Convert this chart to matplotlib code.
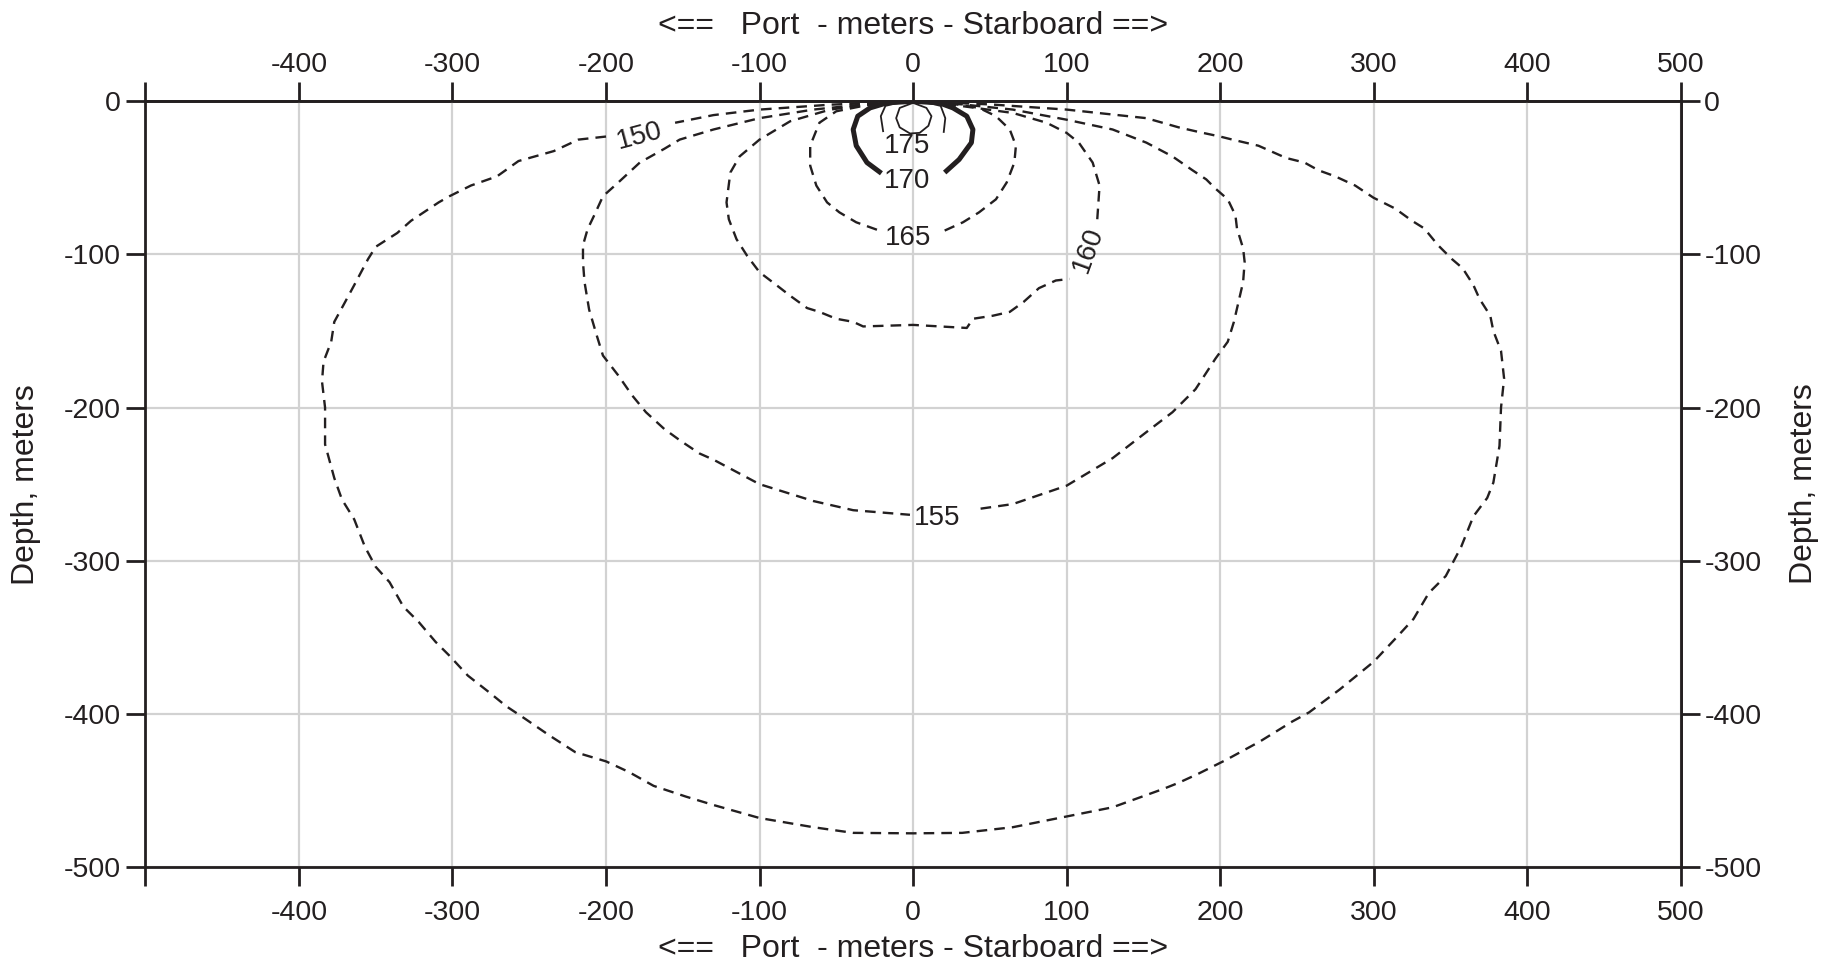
import numpy as np
import matplotlib
matplotlib.use("Agg")
import matplotlib.pyplot as plt

plt.rcParams['font.family'] = ['Liberation Sans', 'DejaVu Sans']
plt.rcParams['axes.unicode_minus'] = False

nan = np.nan

# contour levels (dB), x = across track, y = depth (m)
# nan marks the gap left for the contour label
c150_x = [0, -54, -100, -130, -155, nan, -200, -218, -234, -257, -271, -288, -302, -309, -327, -336,
          -350, -355, -364, -371, -377, -379, -384, -385, -383, -383, -377, -372, -364, -357, -350,
          -341, -332, -322, -311, -302, -290, -276, -265, -253, -237, -220, -200, -185, -169, -148,
          -130, -100, -65, -39, 0, 32, 65, 100, 130, 163, 173, 186, 204, 226, 247, 258, 278, 300,
          315, 326, 336, 347, 357, 365, 374, 378, 382, 383, 385, 383, 378, 376, 369, 365, 358, 351,
          342, 333, 325, 314, 306, 300, 288, 275, 264, 255, 243, 225, 208, 200, 186, 173, 152, 100,
          50, 0]
c150_y = [0, -2.2, -5.4, -9, -14, nan, -23, -25, -32.5, -39, -49, -55, -62, -66, -78, -86,
          -95, -103, -120, -133, -144, -157, -170, -183, -200, -224, -246, -260, -273, -291, -304,
          -314, -330, -340, -353, -362, -375, -386, -395, -403, -414, -425, -431, -438, -447, -454,
          -459.5, -468, -474, -477.7, -478, -477.7, -474, -467, -461, -449, -445, -439, -430, -418,
          -405, -399, -384, -366, -350, -338, -321, -310, -291, -271, -259, -249, -225, -200, -181,
          -163, -150, -140, -129, -120, -109, -103, -94, -83, -78, -70, -66, -63, -55, -49, -45,
          -40, -37, -29, -25, -23, -20, -17, -11, -5.4, -2, 0]

c155_x = [0, -32, -65, -100, -130, -152, -162, -178, -192, -202, -207, -212, -215, -215, -214,
          -211, -206, -202, -192, -183, -174, -162, -151, -139, -130, -100, -65, -39, -2, nan, 44,
          65, 100, 130, 152, 169, 184, 197, 205, 209, 212, 215, 216, 215, 211, 210, 205, 197, 191,
          182, 169, 152, 130, 100, 65, 32, 0]
c155_y = [0, -2, -5.4, -11, -18.4, -25, -31, -40, -53, -62, -73, -83.5, -94, -105, -118,
          -136, -153, -166, -179, -192, -203, -214, -222, -230, -234, -250, -261, -267, -270, nan,
          -266, -263, -251, -233, -216, -203, -188, -168, -157, -144, -131, -118, -105, -96, -83,
          -74.5, -64, -57, -51, -45, -36, -27, -18.4, -12, -5.4, -2, 0]

c160_x = [0, -25, -54, -80, -100, -113, -119, -121.5, -120, -115, -108, -100, -89, -80, -69, -61,
          -50, -39, -32.5, 0, 35, 39, 52, 63, 72, 82, 93, 102, nan, 120, 121.5, 117, 108, 100, 87,
          65, 32.5, 0]
c160_y = [0, -1.5, -5.4, -13, -25, -36, -46.5, -66, -77, -90, -101, -111.6, -120, -127, -135,
          -137.5, -142, -144, -147, -146, -148, -142, -140, -137.5, -131, -122, -117, -116, nan,
          -77, -55, -40, -27, -20.6, -14, -7.6, -3.2, 0]

c165_x = [0, -30, -50, -61, -67, -67, -63, -56, -48, -37, -22, nan, 20.6, 32.5, 43, 54, 61, 66,
          67, 63, 54, 43, 25, 0]
c165_y = [0, -2.5, -6.5, -14, -29, -42, -55, -66, -72.5, -79, -84.4, nan, -84.4, -79, -72.5, -64,
          -53, -40, -29, -18.4, -9.7, -4.3, -1.5, 0]

c170_x = [-20.6, -30, -37, -39, -36, -28, -17, 0, 17, 26, 35, 39, 38, 30, 20.6]
c170_y = [-47, -40, -29, -18.4, -9.7, -4.3, -1, 0, -1, -4.3, -9.7, -18.4, -27, -38, -46.5]

c175_x = [0, -12, -18, -21, -19.5, nan, 20, 21, 18, 12, 0]
c175_y = [0, -1.5, -3, -9.7, -19.5, nan, -20, -11, -3, -1.5, 0]

core_x = [0, -8.7, -11, -8.7, -2, 4.3, 10, 12, 8.7, 0]
core_y = [-1, -4.3, -11, -17, -21, -20.6, -16, -9.7, -4.3, -1]

# label text, position and angle
label_text = ["150", "155", "160", "165", "170", "175"]
label_x = [-178, 16, 114, -3, -4, -4]
label_y = [-22.5, -272, -97, -89, -52, -29]
label_rot = [15, 0, 70, 0, 0, 0]

xticks = np.arange(-500, 501, 100)
xtick_labels = [""] + [str(v) for v in xticks[1:]]
yticks = np.arange(-500, 1, 100)
ytick_labels = [str(v) for v in yticks]

INK = "#231f20"
DASH = (0, (4.5, 3))


def style_axis(a, which):
    a.tick_params(axis=which, direction="out", length=14, width=2, color=INK,
                  labelsize=20.5, labelcolor=INK)


def main(output):
    fig = plt.figure(figsize=(18.25, 9.64), dpi=100)
    ax = fig.add_axes([0.0797, 0.1006, 0.8412, 0.7943])

    ax.plot(c150_x, c150_y, color=INK, lw=1.7, ls=DASH, zorder=3)
    ax.plot(c155_x, c155_y, color=INK, lw=1.7, ls=DASH, zorder=3)
    ax.plot(c160_x, c160_y, color=INK, lw=1.7, ls=DASH, zorder=3)
    ax.plot(c165_x, c165_y, color=INK, lw=1.7, ls=DASH, zorder=3)
    ax.plot(c170_x, c170_y, color=INK, lw=3.6, solid_capstyle="butt", zorder=3)
    ax.plot(c175_x, c175_y, color=INK, lw=1.3, zorder=3)
    ax.plot(core_x, core_y, color=INK, lw=1.3, zorder=3)

    for t, x, y, r in zip(label_text, label_x, label_y, label_rot):
        ax.text(x, y, t, fontsize=20, color=INK, rotation=r,
                ha="center", va="center", rotation_mode="anchor", zorder=4)

    ax.set_xlim(-500, 500)
    ax.set_ylim(-500, 0)
    ax.set_xticks(xticks)
    ax.set_xticklabels(xtick_labels)
    ax.set_yticks(yticks)
    ax.set_yticklabels(ytick_labels)
    ax.grid(True, color="#d2d2d2", lw=1.6, zorder=0)
    ax.set_axisbelow(True)
    for sp in ax.spines.values():
        sp.set_color(INK)
        sp.set_linewidth(2)

    style_axis(ax, "both")
    ax.tick_params(axis="x", pad=10)
    ax.tick_params(axis="y", pad=4)

    top = ax.secondary_xaxis("top")
    top.set_xticks(xticks)
    top.set_xticklabels(xtick_labels)
    style_axis(top, "x")
    top.tick_params(axis="x", pad=3)
    top.spines["top"].set_linewidth(2)
    top.spines["top"].set_color(INK)

    right = ax.secondary_yaxis("right")
    right.set_yticks(yticks)
    right.set_yticklabels(ytick_labels)
    style_axis(right, "y")
    right.tick_params(axis="y", pad=3)
    right.spines["right"].set_linewidth(2)
    right.spines["right"].set_color(INK)

    xlab = "<==   Port  - meters - Starboard ==>"
    ax.set_xlabel(xlab, fontsize=23, color=INK, va="center")
    ax.xaxis.set_label_coords(0.5, -0.107)
    fig.text(0.5003, 0.973, xlab, fontsize=23, color=INK, ha="center", va="center")

    ax.set_ylabel("Depth, meters", fontsize=23, color=INK, va="center")
    ax.yaxis.set_label_coords(-0.078, 0.5)
    fig.text(0.9885, 0.498, "Depth, meters", fontsize=23, color=INK,
             ha="center", va="center", rotation=90)

    fig.savefig(output, dpi=100)


if __name__ == "__main__":
    main("out.png")
